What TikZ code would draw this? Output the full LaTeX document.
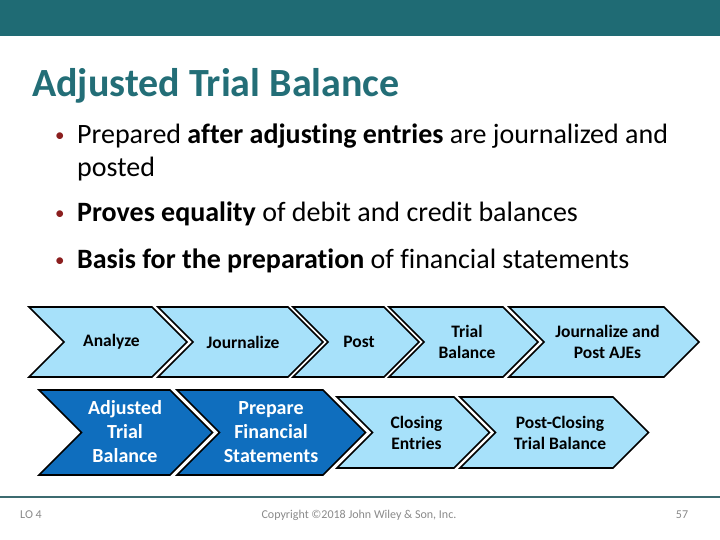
\documentclass[tikz,border=0pt]{standalone}
\usepackage{fontspec}
\setmainfont[Ligatures={NoCommon}]{Carlito}
\definecolor{barteal}{HTML}{1F6B74}
\definecolor{titleteal}{HTML}{236E77}
\definecolor{footline}{HTML}{3C6B70}
\definecolor{lightch}{HTML}{A7E1FA}
\definecolor{darkch}{HTML}{0F6EBE}
\definecolor{bulletred}{HTML}{8B1E1E}
\definecolor{footgray}{HTML}{8A8A8A}
\newcommand{\mychev}[5]{%
  \pgfmathsetmacro\chd{(#5-#4)/2}%
  \pgfmathsetmacro\chm{(#5+#4)/2}%
  \draw[#1] (#2,#4) -- (#3,#4) -- ({#3+\chd},\chm) -- (#3,#5) -- (#2,#5) -- ({#2+\chd},\chm) -- cycle;}
\begin{document}
\begin{tikzpicture}[x=1pt,y=-1pt,
  lightchev/.style={fill=lightch,draw=black,line width=1.6pt,line join=miter},
  darkchev/.style={fill=darkch,draw=black,line width=1.6pt,line join=miter},
  ltxt/.style={inner sep=0pt,align=center,font=\fontsize{17.5}{21}\selectfont\bfseries,text=black},
  dtxt/.style={inner sep=0pt,align=center,font=\fontsize{20}{24}\selectfont\bfseries,text=white},
  body/.style={inner sep=0pt,anchor=base west,font=\fontsize{28}{33}\selectfont,text=black},
  bul/.style={inner sep=0pt,anchor=base west,font=\fontsize{19}{20}\selectfont,text=bulletred},
  foot/.style={inner sep=0pt,font=\fontsize{12}{14}\selectfont,text=footgray}]
\useasboundingbox (0,0) rectangle (720,540);
\fill[white] (0,0) rectangle (720,540);
% top bar
\fill[barteal] (0,0) rectangle (720,36);
% title
\node[inner sep=0pt,anchor=base west,font=\fontsize{40}{48}\selectfont\bfseries,text=titleteal] (title) at (32,97) {Adjusted Trial Balance};
% bullets
\node[bul] (b1) at (55,142) {•};
\node[body] (t1) at (77,144) {Prepared \textbf{after adjusting entries} are journalized and};
\node[body] (t1b) at (77,177) {posted};
\node[bul] (b2) at (55,220) {•};
\node[body] (t2) at (77,222) {\textbf{Proves equality} of debit and credit balances};
\node[bul] (b3) at (55,266) {•};
\node[body] (t3) at (77,268) {\textbf{Basis for the preparation} of financial statements};
% row 1 chevrons
\mychev{lightchev}{29}{152}{307}{377}
\mychev{lightchev}{158}{288}{307}{377}
\mychev{lightchev}{293}{384}{307}{377}
\mychev{lightchev}{389}{503}{307}{377}
\mychev{lightchev}{509}{664}{307}{377}
% row 2 chevrons
\mychev{darkchev}{39}{170}{390}{475}
\mychev{darkchev}{177}{323}{390}{475}
\mychev{lightchev}{337}{454}{397}{468}
\mychev{lightchev}{460}{613}{397}{468}
% row 1 labels
\node[ltxt] (analyze) at (111.5,342) {Analyze};
\node[ltxt] (journ) at (243,342) {Journalize};
\node[ltxt] (post) at (359,342) {Post};
\node[ltxt] (tb) at (467,341.5) {Trial\\Balance};
\node[ltxt] (jpa) at (607.5,341.5) {Journalize and\\Post AJEs};
% row 2 labels
\node[dtxt] (atb) at (125,432) {Adjusted\\Trial\\Balance};
\node[dtxt] (pfs) at (271,432) {Prepare\\Financial\\Statements};
\node[ltxt] (ce) at (416.5,432.5) {Closing\\Entries};
\node[ltxt] (pctb) at (560,432.5) {Post-Closing\\Trial Balance};
% footer
\draw[footline,line width=2pt] (0,497) -- (720,497);
\node[foot] (lo) at (31,515) {LO 4};
\node[foot] (copy) at (359,515) {Copyright ©2018 John Wiley \& Son, Inc.};
\node[foot] (pg) at (682,515) {57};
\end{tikzpicture}
\end{document}
